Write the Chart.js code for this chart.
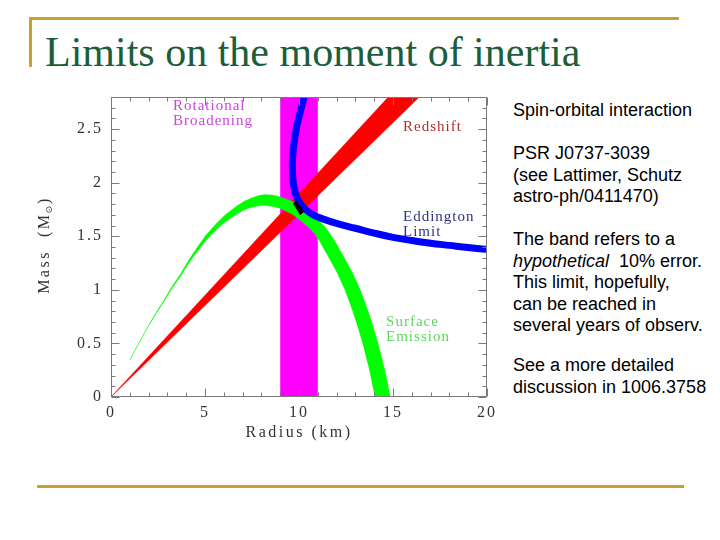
<!DOCTYPE html>
<html><head><meta charset="utf-8">
<script src="https://cdn.jsdelivr.net/npm/chart.js@4.4.1/dist/chart.umd.min.js"></script>
<style>
html,body{margin:0;padding:0;background:#fff;}
body{width:720px;height:540px;position:relative;overflow:hidden;}
.gold{position:absolute;background:#c9a030;}
#title{position:absolute;left:45px;top:31px;font-family:'Liberation Serif','Times New Roman',serif;font-size:42px;line-height:42px;color:#1b5e3b;white-space:nowrap;}
#wrap{position:absolute;left:30px;top:85px;width:470px;height:365px;}
.note{position:absolute;left:513px;font-family:'Liberation Sans',Arial,sans-serif;font-size:18px;line-height:21.6px;color:#000;white-space:nowrap;}
</style></head>
<body>
<div class="gold" style="left:29px;top:17px;width:650px;height:3px"></div>
<div class="gold" style="left:29px;top:17px;width:3px;height:50px"></div>
<div id="title">Limits on the moment of inertia</div>
<div class="gold" style="left:37px;top:485px;width:647px;height:3px"></div>
<div id="wrap"><canvas id="c"></canvas></div>
<div class="note" style="top:100px">Spin-orbital interaction</div>
<div class="note" style="top:143px">PSR J0737-3039<br>(see Lattimer, Schutz<br>astro-ph/0411470)</div>
<div class="note" style="top:229px">The band refers to a<br><i>hypothetical</i>&nbsp; 10% error.<br>This limit, hopefully,<br>can be reached in<br>several years of observ.</div>
<div class="note" style="top:355px">See a more detailed<br>discussion in 1006.3758</div>
<script>
// ---- axis ranges and tick labels ----
const radiusLimits = [0, 20];
const massLimits = [0, 2.8];
const xTickLabels = [0, 5, 10, 15, 20];
const yTickLabels = [0, 0.5, 1, 1.5, 2, 2.5];

// ---- Rotational broadening band (radius limits, km) ----
const rotBroadR = [9.0, 11.0];

// ---- Redshift band edges ----
const redUpperR = [0, 14.75];
const redUpperM = [0, 2.8];
const redLowerR = [0, 16.4];
const redLowerM = [0, 2.8];

// ---- Surface emission band edges (outer = upper/right, inner = lower/left) ----
const greenOuterR = [1.0, 1.4, 1.9, 2.3, 2.8, 3.2, 3.7, 4.1, 4.6, 5.0, 5.5, 6.0, 6.4, 6.75, 7.1, 7.5, 7.9, 8.2, 8.6, 9.0, 9.6, 10.0, 10.5, 11.0, 11.45, 11.87, 12.41, 12.86, 13.26, 13.68, 13.89, 14.21, 14.57, 14.86];
const greenOuterM = [0.345, 0.48, 0.64, 0.76, 0.90, 1.02, 1.15, 1.27, 1.40, 1.50, 1.60, 1.69, 1.745, 1.79, 1.83, 1.86, 1.883, 1.89, 1.885, 1.87, 1.83, 1.795, 1.73, 1.66, 1.575, 1.467, 1.30, 1.156, 1.0, 0.8, 0.688, 0.5, 0.25, 0];
const greenInnerR = [1.0, 1.4, 1.9, 2.3, 2.8, 3.2, 3.7, 4.1, 4.6, 5.0, 5.5, 6.0, 6.4, 6.75, 7.1, 7.5, 7.9, 8.2, 8.6, 9.0, 9.6, 10.0, 10.5, 10.8, 11.05, 11.59, 12.04, 12.44, 12.86, 13.07, 13.39, 13.75, 14.04];
const greenInnerM = [0.341, 0.474, 0.632, 0.75, 0.886, 1.002, 1.126, 1.24, 1.36, 1.45, 1.542, 1.624, 1.673, 1.713, 1.747, 1.77, 1.785, 1.787, 1.777, 1.76, 1.71, 1.66, 1.585, 1.53, 1.467, 1.30, 1.156, 1.0, 0.8, 0.688, 0.5, 0.25, 0];

// ---- Eddington limit (band centre) ----
const blueR = [10.3, 10.05, 9.85, 9.72, 9.65, 9.66, 9.72, 9.85, 10.05, 10.35, 10.75, 11.3, 12.0, 13.0, 14.0, 15.0, 16.0, 17.0, 18.0, 19.0, 20.2];
const blueM = [2.82, 2.65, 2.5, 2.35, 2.2, 2.08, 1.97, 1.88, 1.81, 1.75, 1.70, 1.66, 1.62, 1.575, 1.53, 1.49, 1.46, 1.435, 1.415, 1.395, 1.375];

// ---- Allowed region (intersection) ----
const blackR = [9.7, 9.85, 10.25, 10.05];
const blackM = [1.80, 1.83, 1.73, 1.70];

// ---- annotation texts ----
const annotations = [
  {lines: ['Rotational', 'Broadening'], r: 3.3, m: 2.717, color: '#c844dc'},
  {lines: ['Redshift'], r: 15.53, m: 2.52, color: '#b03030'},
  {lines: ['Eddington', 'Limit'], r: 15.53, m: 1.68, color: '#303088'},
  {lines: ['Surface', 'Emission'], r: 14.63, m: 0.70, color: '#5cd85c'}
];

const pts = (rs, ms) => rs.map((r, i) => ({x: r, y: ms[i]}));
const polygon = (r1, m1, r2, m2) => pts(r1, m1).concat(pts(r2, m2).reverse());

const rotPoly = polygon([rotBroadR[0], rotBroadR[0]], [massLimits[0], massLimits[1]],
                        [rotBroadR[1], rotBroadR[1]], [massLimits[0], massLimits[1]]);
const redPoly = polygon(redUpperR, redUpperM, redLowerR, redLowerM);
const greenPoly = polygon(greenOuterR, greenOuterM, greenInnerR, greenInnerM);

const HFONT = "'Liberation Serif','Times New Roman',serif";

const framePlugin = {
  id: 'frame',
  beforeDraw(chart) { chart.ctx.letterSpacing = '2px'; },
  afterDatasetsDraw(chart) {
    const {ctx, chartArea: a, scales: {x, y}} = chart;
    ctx.save();
    ctx.letterSpacing = '0px';
    ctx.strokeStyle = '#7a7a7a';
    ctx.lineWidth = 1;
    const L = Math.round(a.left) + 0.5, R = Math.round(a.right) - 0.5;
    const T = Math.round(a.top) + 0.5, B = Math.round(a.bottom) - 0.5;
    ctx.beginPath();
    ctx.rect(L, T, R - L, B - T);
    for (let v = x.min; v <= x.max + 1e-9; v += 1) {
      const px = Math.round(x.getPixelForValue(v)) + 0.5;
      const len = (Math.round(v) % 5 === 0) ? 8 : 4;
      ctx.moveTo(px, B); ctx.lineTo(px, B - len);
      ctx.moveTo(px, T); ctx.lineTo(px, T + len);
    }
    for (let i = 0; i <= Math.round(y.max * 10); i++) {
      const py = Math.round(y.getPixelForValue(i / 10)) + 0.5;
      const len = (i % 5 === 0) ? 8 : 4;
      ctx.moveTo(L, py); ctx.lineTo(L + len, py);
      ctx.moveTo(R, py); ctx.lineTo(R - len, py);
    }
    ctx.stroke();

    // annotations
    ctx.font = '15px ' + HFONT;
    ctx.letterSpacing = '1px';
    ctx.textBaseline = 'middle';
    ctx.textAlign = 'left';
    annotations.forEach(an => {
      ctx.fillStyle = an.color;
      const px = x.getPixelForValue(an.r);
      const py = y.getPixelForValue(an.m);
      an.lines.forEach((t, k) => ctx.fillText(t, px, py + k * 15));
    });

    // axis titles
    ctx.fillStyle = '#333';
    ctx.font = '16px ' + HFONT;
    ctx.letterSpacing = '2.5px';
    ctx.textAlign = 'center';
    ctx.fillText('Radius (km)', (a.left + a.right) / 2, a.bottom + 36);

    ctx.translate(15, (a.top + a.bottom) / 2 - 2);
    ctx.rotate(-Math.PI / 2);
    ctx.textAlign = 'left';
    const p1 = 'Mass  (M', sub = '\u2299', p2 = ')';
    ctx.font = '16px ' + HFONT;
    const w1 = ctx.measureText(p1).width;
    const w3 = ctx.measureText(p2).width;
    ctx.font = '9px DejaVu Sans';
    ctx.letterSpacing = '0px';
    const w2 = ctx.measureText(sub).width;
    const total = w1 + w2 + w3 + 1;
    let cx = -total / 2;
    ctx.font = '16px ' + HFONT;
    ctx.letterSpacing = '2.5px';
    ctx.fillText(p1, cx, 0);
    cx += w1;
    ctx.font = '9px DejaVu Sans';
    ctx.letterSpacing = '0px';
    ctx.fillText(sub, cx - 1, 5);
    cx += w2 + 1;
    ctx.font = '16px ' + HFONT;
    ctx.letterSpacing = '2.5px';
    ctx.fillText(p2, cx, 0);
    ctx.restore();
  },
  afterDraw(chart) { chart.ctx.letterSpacing = '0px'; }
};

const zeroPad = s => { s.paddingTop = 0; s.paddingBottom = 0; s.paddingLeft = 0; s.paddingRight = 0; };

new Chart(document.getElementById('c'), {
  type: 'scatter',
  data: {
    datasets: [
      {label: 'Allowed', data: pts(blackR, blackM), showLine: true, fill: 'shape',
       backgroundColor: '#000', borderColor: '#000', borderWidth: 1, pointRadius: 0, tension: 0, clip: 0},
      {label: 'Eddington Limit', data: pts(blueR, blueM), showLine: true, fill: false,
       borderColor: '#0000ff', borderWidth: 7, pointRadius: 0, tension: 0.4, clip: 0},
      {label: 'Surface Emission', data: greenPoly, showLine: true, fill: 'shape',
       backgroundColor: '#00ff00', borderColor: 'rgba(0,255,0,0.5)', borderWidth: 0.5, pointRadius: 0, tension: 0, clip: 0},
      {label: 'Redshift', data: redPoly, showLine: true, fill: 'shape',
       backgroundColor: '#ff0000', borderColor: '#ff0000', borderWidth: 0.5, pointRadius: 0, tension: 0, clip: 0},
      {label: 'Rotational Broadening', data: rotPoly, showLine: true, fill: 'shape',
       backgroundColor: '#ff00ff', borderColor: '#ff00ff', borderWidth: 0, pointRadius: 0, tension: 0, clip: 0}
    ]
  },
  options: {
    responsive: true,
    maintainAspectRatio: false,
    animation: false,
    events: [],
    layout: {padding: {top: 12, right: 13, left: 0, bottom: 0}},
    plugins: {legend: {display: false}, tooltip: {enabled: false}},
    scales: {
      x: {
        type: 'linear', min: radiusLimits[0], max: radiusLimits[1],
        afterFit: s => { s.height = 53; zeroPad(s); },
        afterBuildTicks: s => { s.ticks = xTickLabels.map(v => ({value: v})); },
        grid: {display: false, drawTicks: false},
        border: {display: false},
        ticks: {padding: 6, color: '#333', font: {family: HFONT, size: 16}, maxRotation: 0,
                callback: v => String(v)}
      },
      y: {
        type: 'linear', min: massLimits[0], max: massLimits[1],
        afterFit: s => { s.width = 81; zeroPad(s); },
        afterBuildTicks: s => { s.ticks = yTickLabels.map(v => ({value: v})); },
        grid: {display: false, drawTicks: false},
        border: {display: false},
        ticks: {padding: 8, color: '#333', font: {family: HFONT, size: 16},
                callback: v => String(v)}
      }
    }
  },
  plugins: [framePlugin]
});
</script>
</body></html>
